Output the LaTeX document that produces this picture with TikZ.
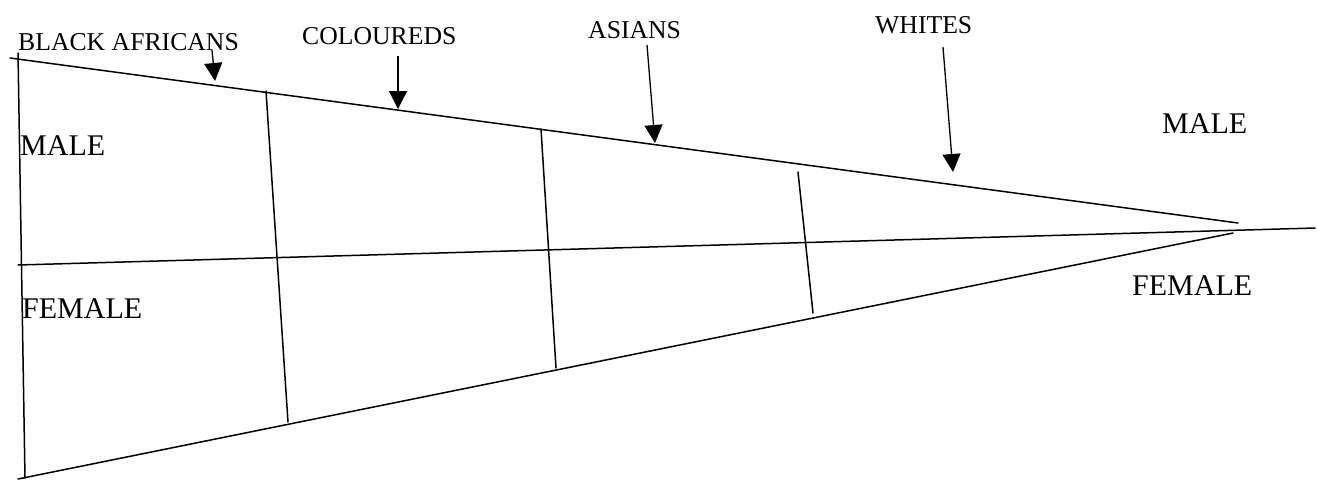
\documentclass[tikz,border=0pt]{standalone}
\usepackage{fontspec}
\setmainfont{Liberation Serif}
\usetikzlibrary{arrows.meta}
\begin{document}
\begin{tikzpicture}[x=1pt,y=-1pt,
  frame/.style={line width=1.5pt, black, line cap=round},
  divider/.style={line width=1.5pt, black, line cap=round},
  pointer/.style={line width=1.3pt, black, -{Triangle[length=18pt,width=18pt]}},
  grouplabel/.style={inner sep=0pt, anchor=base west, font=\fontsize{25.7}{30}\selectfont},
  sexlabel/.style={inner sep=0pt, anchor=base west, font=\fontsize{30}{34}\selectfont}]
\useasboundingbox (0,0) rectangle (1317,480);
\fill[white] (0,0) rectangle (1317,480);

% frame coordinates
\coordinate (vtop) at (18,53);
\coordinate (vbot) at (25,478);
\coordinate (tl) at (10,58);
\coordinate (tr) at (1238,223);
\coordinate (bl) at (18,479);
\coordinate (br) at (1233,233);
\coordinate (ml) at (18,265);
\coordinate (mr) at (1315,228);

\draw[frame] (vtop) -- (vbot);
\draw[frame] (tl) -- (tr);
\draw[frame] (bl) -- (br);
\draw[frame] (ml) -- (mr);

% dividers
\coordinate (d1t) at (266,91);
\coordinate (d1b) at (288,422);
\coordinate (d2t) at (541,129);
\coordinate (d2b) at (556,368);
\coordinate (d3t) at (798,172);
\coordinate (d3b) at (813,313);
\draw[divider] (d1t) -- (d1b);
\draw[divider] (d2t) -- (d2b);
\draw[divider] (d3t) -- (d3b);

% labels
\node[grouplabel] (black) at (18,50) {BLACK AFRICANS};
\node[grouplabel] (col) at (302,44) {COLOUREDS};
\node[grouplabel] (asi) at (588,38) {ASIANS};
\node[grouplabel] (whi) at (875,33) {WHITES};
\node[sexlabel] (maleL) at (20,155) {MALE};
\node[sexlabel] (femL) at (22,318) {FEMALE};
\node[sexlabel] (maleR) at (1162,133) {MALE};
\node[sexlabel] (femR) at (1132,295) {FEMALE};

% arrows
\coordinate (a1s) at (212,50);
\coordinate (a1e) at (215,81);
\coordinate (a2s) at (398,56);
\coordinate (a2e) at (398,109);
\coordinate (a3s) at (647,45);
\coordinate (a3e) at (655,143);
\coordinate (a4s) at (943,47);
\coordinate (a4e) at (953,172);
\draw[pointer] (a1s) -- (a1e);
\draw[pointer] (a2s) -- (a2e);
\draw[pointer] (a3s) -- (a3e);
\draw[pointer] (a4s) -- (a4e);
\end{tikzpicture}
\end{document}
